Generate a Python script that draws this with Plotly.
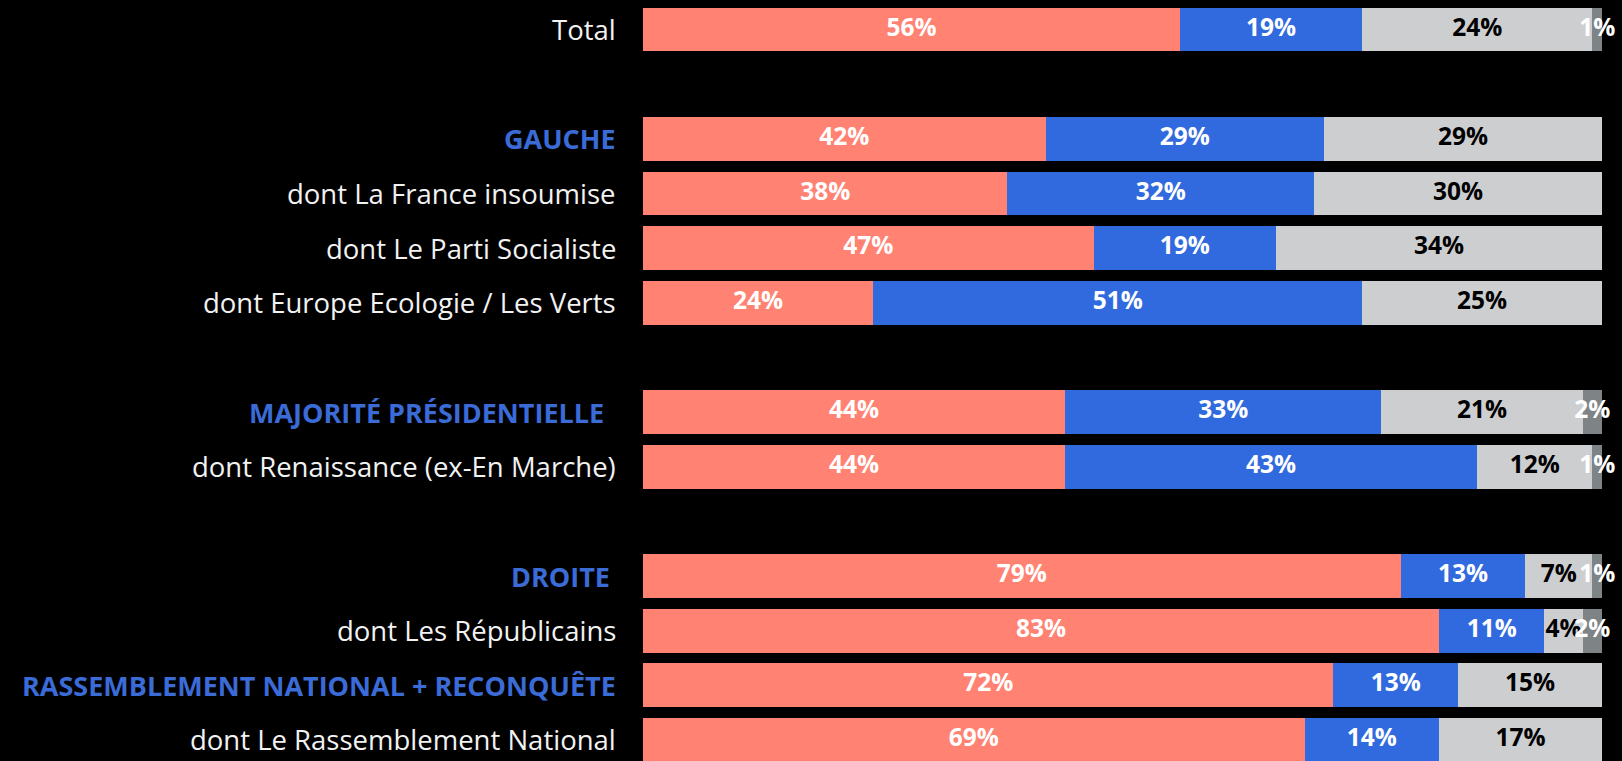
import plotly.graph_objects as go

# Rows (None = spacer row)
labels = ["Total", None, "GAUCHE", "dont La France insoumise", "dont Le Parti Socialiste",
          "dont Europe Ecologie / Les Verts", None, "MAJORITÉ PRÉSIDENTIELLE",
          "dont Renaissance (ex-En Marche)", None, "DROITE", "dont Les Républicains",
          "RASSEMBLEMENT NATIONAL + RECONQUÊTE", "dont Le Rassemblement National"]
is_header = [False, False, True, False, False, False, False, True, False, False, True, False, True, False]

s1 = [56, None, 42, 38, 47, 24, None, 44, 44, None, 79, 83, 72, 69]
s2 = [19, None, 29, 32, 19, 51, None, 33, 43, None, 13, 11, 13, 14]
s3 = [24, None, 29, 30, 34, 25, None, 21, 12, None, 7, 4, 15, 17]
s4 = [1, None, 0, 0, 0, 0, None, 2, 1, None, 1, 2, 0, 0]

series = [s1, s2, s3, s4]
colors = ["#FF8273", "#316ADE", "#CDCED0", "#7E8385"]
text_colors = ["white", "white", "black", "white"]

rows = list(range(len(labels)))
fig = go.Figure()

for vals, col in zip(series, colors):
    xs = [v if v is not None else 0 for v in vals]
    fig.add_trace(go.Bar(y=rows, x=xs, orientation="h", marker=dict(color=col, line=dict(width=0)),
                         width=0.8, hoverinfo="skip", showlegend=False))

# value labels at segment centers
tx, ty, tt, tc = [], [], [], []
for r in rows:
    if s1[r] is None:
        continue
    cum = 0
    for k, vals in enumerate(series):
        v = vals[r]
        if v:
            tx.append(cum + v / 2)
            ty.append(r)
            tt.append(f"{v}%")
            tc.append(text_colors[k])
        cum += v
fig.add_trace(go.Scatter(x=tx, y=ty, mode="text", text=tt, cliponaxis=False,
                         textfont=dict(family="Open Sans", size=24.5, color=tc, weight="bold"),
                         textposition="middle center", hoverinfo="skip", showlegend=False))

shifts = {"MAJORITÉ PRÉSIDENTIELLE": -37, "DROITE": -31}
for r, (lab, hdr) in enumerate(zip(labels, is_header)):
    if lab is None:
        continue
    fig.add_annotation(x=0, xref="paper", y=r, yref="y", text=lab, showarrow=False,
                       xanchor="right", yanchor="middle", xshift=shifts.get(lab, -25),
                       font=dict(family="Open Sans", size=27 if hdr else 27.5,
                                 color="#3A6BD6" if hdr else "#F2F2F2",
                                 weight="bold" if hdr else "normal"))

fig.update_layout(
    barmode="stack", width=1622, height=761,
    margin=dict(l=643, r=20, t=0, b=0),
    paper_bgcolor="black", plot_bgcolor="black",
    xaxis=dict(range=[0, 100], visible=False, fixedrange=True),
    yaxis=dict(range=[13.385, -0.54], visible=False, fixedrange=True),
    bargap=0.2,
)
fig.write_html("out.html", config={"displayModeBar": False},
               post_script="document.body.style.margin='0';document.body.style.background='black';document.body.style.overflow='hidden';")
